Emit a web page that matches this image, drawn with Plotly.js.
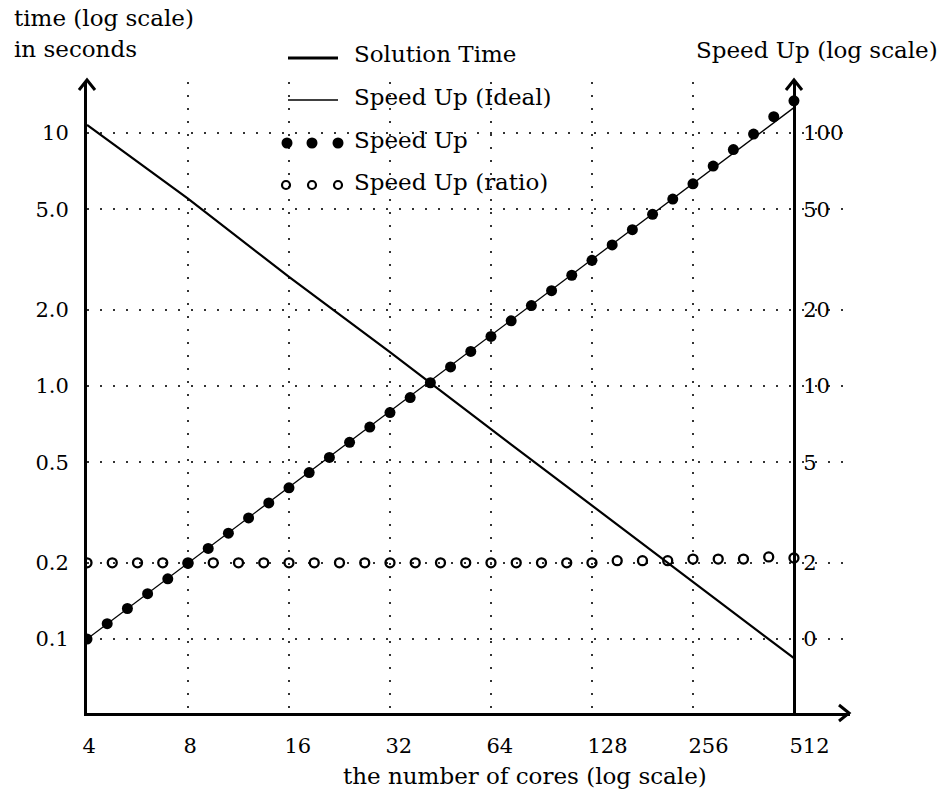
<!DOCTYPE html>
<html>
<head>
<meta charset="utf-8">
<script src="https://cdn.plot.ly/plotly-3.0.1.min.js"></script>
<style>html,body{margin:0;padding:0;background:#fff;}#chart{width:945px;height:792px;}</style>
</head>
<body>
<div id="chart"></div>
<script>
// ---- data ----
const cores = [4, 8, 16, 32, 64, 128, 256, 512];
const coreLabels = ['4', '8', '16', '32', '64', '128', '256', '512'];
const solutionTime = [10.76, 5.5, 2.7, 1.36, 0.675, 0.337, 0.168, 0.084];

const idealCores = [4, 512];
const idealSpeedUp = [1, 126];

const speedUpCores = [4, 4.595, 5.278, 6.063, 6.964, 8, 9.19, 10.556, 12.126, 13.929,
  16, 18.379, 21.112, 24.251, 27.858, 32, 36.758, 42.224, 48.503, 55.715,
  64, 73.517, 84.448, 97.006, 111.43, 128, 147.03, 168.9, 194.01, 222.86,
  256, 294.07, 337.79, 388.02, 445.72, 512];
const speedUp = [1.0, 1.15, 1.32, 1.51, 1.73, 1.99, 2.28, 2.62, 3.01, 3.45,
  3.96, 4.55, 5.22, 5.99, 6.88, 7.85, 9.0, 10.3, 11.9, 13.7,
  15.7, 18.1, 20.8, 23.8, 27.4, 31.4, 36.1, 41.5, 47.7, 54.8,
  63.0, 74.0, 86.0, 99.0, 116.0, 134.0];

const ratioCores = [4, 4.757, 5.657, 6.727, 8, 9.514, 11.314, 13.454, 16, 19.027,
  22.627, 26.909, 32, 38.055, 45.255, 53.817, 64, 76.109, 90.51, 107.63,
  128, 152.22, 181.02, 215.27, 256, 304.44, 362.04, 430.54, 512];
const speedUpRatio = [2.0, 2.0, 2.0, 2.0, 2.0, 2.0, 2.0, 2.0, 2.0, 2.0,
  2.0, 2.0, 2.0, 2.0, 2.0, 2.0, 2.0, 2.0, 2.0, 2.0,
  2.0, 2.04, 2.04, 2.04, 2.07, 2.07, 2.07, 2.11, 2.09];

const timeTicks = [0.1, 0.2, 0.5, 1, 2, 5, 10];
const timeLabels = ['0.1', '0.2', '0.5', '1.0', '2.0', '5.0', '10'];
const speedTicks = [1, 2, 5, 10, 20, 50, 100];
const speedLabels = ['0', '2', '5', '10', '20', '50', '100'];

const seriesNames = ['Solution Time', 'Speed Up (Ideal)', 'Speed Up', 'Speed Up (ratio)'];

// ---- layout geometry (pixels) ----
const L = 87, R = 850, T = 82, B = 713;
const W = 945, H = 792;
function fx(p) { return (p - L) / (R - L); }
function fy(p) { return (B - p) / (B - T); }
const FONT = 'DejaVu Serif';

const traces = [
  { x: idealCores, y: idealSpeedUp, yaxis: 'y2', name: seriesNames[1], mode: 'lines',
    line: { color: '#000', width: 1.3 }, hoverinfo: 'skip' },
  { x: cores, y: solutionTime, yaxis: 'y', name: seriesNames[0], mode: 'lines',
    line: { color: '#000', width: 2.2 }, hoverinfo: 'skip' },
  { x: speedUpCores, y: speedUp, yaxis: 'y2', name: seriesNames[2], mode: 'markers',
    marker: { symbol: 'circle', size: 11, color: '#000' }, hoverinfo: 'skip' },
  { x: ratioCores, y: speedUpRatio, yaxis: 'y2', name: seriesNames[3], mode: 'markers',
    marker: { symbol: 'circle-open', size: 9, color: '#000', line: { width: 2.3, color: '#000' } }, hoverinfo: 'skip' }
];

// legend samples (drawn like the reference: line samples and three-dot samples)
const legendY = [56, 99, 142, 184];
const legendTextX = 352;
const shapes = [];
shapes.push({ type: 'line', xref: 'paper', yref: 'paper', x0: fx(288), x1: fx(338), y0: fy(legendY[0] + 2), y1: fy(legendY[0] + 2), line: { color: '#000', width: 3 } });
shapes.push({ type: 'line', xref: 'paper', yref: 'paper', x0: fx(288), x1: fx(338), y0: fy(legendY[1] + 1), y1: fy(legendY[1] + 1), line: { color: '#000', width: 1.3 } });
[287, 312, 338].forEach(function (cx) {
  shapes.push({ type: 'circle', xref: 'paper', yref: 'paper', xsizemode: 'pixel', ysizemode: 'pixel',
    xanchor: fx(cx), yanchor: fy(legendY[2] + 1), x0: -5.5, x1: 5.5, y0: -5.5, y1: 5.5,
    fillcolor: '#000', line: { color: '#000', width: 0 } });
});
[286, 312, 338].forEach(function (cx) {
  shapes.push({ type: 'circle', xref: 'paper', yref: 'paper', xsizemode: 'pixel', ysizemode: 'pixel',
    xanchor: fx(cx), yanchor: fy(legendY[3] + 1), x0: -4, x1: 4, y0: -4, y1: 4,
    fillcolor: 'rgba(0,0,0,0)', line: { color: '#000', width: 2.2 } });
});
// axis arrow heads
function chevron(pts) {
  return { type: 'path', xref: 'paper', yref: 'paper', line: { color: '#000', width: 3 },
    path: 'M ' + pts.map(function (p) { return fx(p[0]) + ' ' + fy(p[1]); }).join(' L ') };
}
shapes.push(chevron([[79, 90], [87, 80], [95, 90]]));
shapes.push(chevron([[786, 90], [794, 80], [802, 90]]));
shapes.push(chevron([[839, 705], [849, 713], [839, 721]]));

const annFont = { family: FONT, size: 23, color: '#000' };
const annotations = [
  { text: 'time (log scale)', xref: 'paper', yref: 'paper', x: fx(12), y: fy(18), xanchor: 'left', yanchor: 'middle', showarrow: false, font: annFont },
  { text: 'in seconds', xref: 'paper', yref: 'paper', x: fx(12), y: fy(49), xanchor: 'left', yanchor: 'middle', showarrow: false, font: annFont },
  { text: 'Speed Up (log scale)', xref: 'paper', yref: 'paper', x: fx(940), y: fy(50), xanchor: 'right', yanchor: 'middle', showarrow: false, font: annFont },
  { text: 'the number of cores (log scale)', xref: 'paper', yref: 'paper', x: fx(525), y: fy(776), xanchor: 'center', yanchor: 'middle', showarrow: false, font: annFont }
];
seriesNames.forEach(function (n, i) {
  annotations.push({ text: n, xref: 'paper', yref: 'paper', x: fx(legendTextX), y: fy(legendY[i] - 2),
    xanchor: 'left', yanchor: 'middle', showarrow: false, font: annFont });
});

const gridStyle = { gridcolor: '#333', gridwidth: 1.6, griddash: '1.6px,11.4px' };

const layout = {
  width: W, height: H,
  margin: { l: L, r: W - R, t: T, b: H - B, pad: 0 },
  paper_bgcolor: '#fff', plot_bgcolor: '#fff',
  showlegend: false,
  font: { family: FONT, size: 21, color: '#000' },
  xaxis: Object.assign({
    type: 'log', range: [Math.log10(4), 2.8763], tickmode: 'array', tickvals: cores, ticktext: coreLabels,
    showline: true, linewidth: 3, linecolor: '#000', showgrid: true, zeroline: false, ticks: '',
    ticklabelposition: 'outside right', ticklabelshift: -6, ticklabelstandoff: 12,
    tickfont: { family: FONT, size: 21, color: '#000' }, fixedrange: true
  }, gridStyle),
  yaxis: Object.assign({
    type: 'log', range: [-1.2925, 1.2016], tickmode: 'array', tickvals: timeTicks, ticktext: timeLabels,
    showline: true, linewidth: 3, linecolor: '#000', showgrid: true, zeroline: false, ticks: '',
    ticklabelstandoff: 11, tickfont: { family: FONT, size: 21, color: '#000' }, fixedrange: true
  }, gridStyle),
  yaxis2: {
    type: 'log', overlaying: 'y', side: 'right', anchor: 'free', position: fx(794),
    range: [-0.2925, 2.2016], tickmode: 'array', tickvals: speedTicks, ticktext: speedLabels,
    showline: true, linewidth: 3, linecolor: '#000', showgrid: false, zeroline: false, ticks: '',
    ticklabelstandoff: 3, tickfont: { family: FONT, size: 21, color: '#000' }, fixedrange: true
  },
  shapes: shapes,
  annotations: annotations
};

Plotly.newPlot('chart', traces, layout, { staticPlot: true, displayModeBar: false });
</script>
</body>
</html>
